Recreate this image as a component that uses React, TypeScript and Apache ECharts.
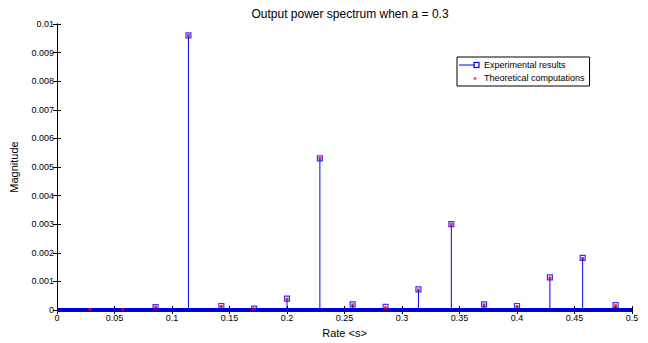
import React, { useEffect, useRef } from "react";
import * as echarts from "echarts";

const titleText = "Output power spectrum when a = 0.3";
const xName = "Rate <s>";
const yName = "Magnitude";
const seriesNames = ["Experimental results", "Theoretical computations"];

const expRates = [0.0857, 0.1143, 0.1429, 0.1714, 0.2, 0.2286, 0.2571, 0.2857, 0.3143, 0.3429, 0.3714, 0.4, 0.4286, 0.4571, 0.4857];
const expValues = [0.0001, 0.0096, 0.00014, 0.00005, 0.0004, 0.0053, 0.0002, 0.00011, 0.00072, 0.003, 0.0002, 0.00014, 0.00114, 0.00182, 0.00017];

const theoRates = [0.0286, 0.0571, 0.0857, 0.1143, 0.1429, 0.1714, 0.2, 0.2286, 0.2571, 0.2857, 0.3143, 0.3429, 0.3714, 0.4, 0.4286, 0.4571, 0.4857];
const theoValues = [0.00002, 0.00002, 0.0001, 0.0096, 0.00013, 0.00004, 0.00038, 0.0053, 0.00018, 0.00008, 0.0007, 0.003, 0.00018, 0.00012, 0.00112, 0.0018, 0.00015];

const baseline = [[0, 0], [0.5, 0]];

const svgUri = (s: string) => "image://data:image/svg+xml;charset=utf-8," + encodeURIComponent(s);
const expIcon = svgUri(
  '<svg xmlns="http://www.w3.org/2000/svg" width="22" height="10" viewBox="0 0 22 10"><line x1="0" y1="5" x2="16" y2="5" stroke="#0000ff" stroke-width="1"/><rect x="15" y="2.5" width="5" height="5" fill="none" stroke="#0000ff" stroke-width="1.2"/></svg>'
);
const theoIcon = svgUri(
  '<svg xmlns="http://www.w3.org/2000/svg" width="22" height="10" viewBox="0 0 22 10"><polygon points="16,3.5 18,6.5 14,6.5" fill="#ff0000"/></svg>'
);

export default function App() {
  const ref = useRef<HTMLDivElement>(null);
  useEffect(() => {
    if (!ref.current) return;
    const chart = echarts.init(ref.current, undefined, { renderer: "svg" });
    const font = "Liberation Sans, Arial, sans-serif";
    const expData = expRates.map((r, i) => [r, expValues[i]]);
    const theoData = theoRates.map((r, i) => [r, theoValues[i]]);
    const tickStyle = { show: true, inside: true, length: 4, lineStyle: { color: "#000" } };
    chart.setOption({
      animation: false,
      backgroundColor: "#fff",
      textStyle: { fontFamily: font },
      title: {
        text: titleText,
        left: 345,
        textAlign: "center",
        top: 3,
        textStyle: { fontSize: 12, fontWeight: "normal", color: "#000", fontFamily: font },
      },
      legend: {
        left: 457,
        top: 57,
        orient: "vertical",
        backgroundColor: "#fff",
        borderColor: "#000",
        borderWidth: 1,
        borderRadius: 0,
        padding: [3, 5, 3, 2],
        itemGap: 3,
        itemWidth: 22,
        itemHeight: 10,
        textStyle: { fontSize: 9, color: "#000", fontFamily: font, padding: [0, 0, 0, -2] },
        data: [
          { name: seriesNames[0], icon: expIcon },
          { name: seriesNames[1], icon: theoIcon },
        ],
      },
      grid: { left: 57, right: 16, top: 24, bottom: 33 },
      xAxis: [
        {
          type: "value",
          min: 0,
          max: 0.5,
          interval: 0.05,
          name: xName,
          nameLocation: "middle",
          nameGap: 17,
          nameTextStyle: { fontSize: 11, color: "#000", fontFamily: font },
          axisLine: { show: true, lineStyle: { color: "#000", width: 1 } },
          axisTick: tickStyle,
          axisLabel: { fontSize: 9, color: "#000", margin: 3, fontFamily: font },
          splitLine: { show: false },
        },
        {
          type: "value",
          position: "top",
          min: 0,
          max: 0.5,
          interval: 0.05,
          axisLine: { show: true, lineStyle: { color: "#000", width: 1 } },
          axisTick: tickStyle,
          axisLabel: { show: false },
          splitLine: { show: false },
        },
      ],
      yAxis: [
        {
          type: "value",
          min: 0,
          max: 0.01,
          interval: 0.001,
          name: yName,
          nameLocation: "middle",
          nameGap: 38,
          nameTextStyle: { fontSize: 11, color: "#000", fontFamily: font },
          axisLine: { show: true, lineStyle: { color: "#000", width: 1 } },
          axisTick: tickStyle,
          axisLabel: { fontSize: 9, color: "#000", margin: 3, fontFamily: font },
          splitLine: { show: false },
        },
        {
          type: "value",
          position: "right",
          min: 0,
          max: 0.01,
          interval: 0.001,
          axisLine: { show: true, lineStyle: { color: "#000", width: 1 } },
          axisTick: tickStyle,
          axisLabel: { show: false },
          splitLine: { show: false },
        },
      ],
      series: [
        {
          name: seriesNames[0],
          type: "custom",
          data: expData,
          silent: true,
          z: 2,
          renderItem: (params: any, api: any) => {
            const x = api.value(0);
            const y = api.value(1);
            const p0 = api.coord([x, 0]);
            const p1 = api.coord([x, y]);
            return {
              type: "line",
              shape: { x1: p0[0], y1: p0[1], x2: p1[0], y2: p1[1] },
              style: { stroke: "#0000ff", lineWidth: 1 },
            };
          },
        },
        {
          name: seriesNames[0],
          type: "line",
          data: baseline,
          symbol: "none",
          z: 3,
          lineStyle: { color: "#0000ff", width: 4 },
        },
        {
          name: "axis-base",
          type: "line",
          data: baseline,
          symbol: "none",
          z: 4,
          lineStyle: { color: "#000", width: 1.2 },
        },
        {
          name: seriesNames[0],
          type: "scatter",
          data: expData,
          symbol: "rect",
          symbolSize: 5,
          z: 5,
          itemStyle: { color: "rgba(0,0,0,0)", borderColor: "#0000ff", borderWidth: 1.2 },
        },
        {
          name: seriesNames[1],
          type: "scatter",
          data: theoData,
          symbol: "rect",
          symbolSize: 3,
          z: 6,
          itemStyle: { color: "#ff0000" },
        },
      ],
    });
    return () => chart.dispose();
  }, []);
  return <div ref={ref} style={{ width: 648, height: 343, position: "absolute", left: 0, top: 0 }} />;
}
